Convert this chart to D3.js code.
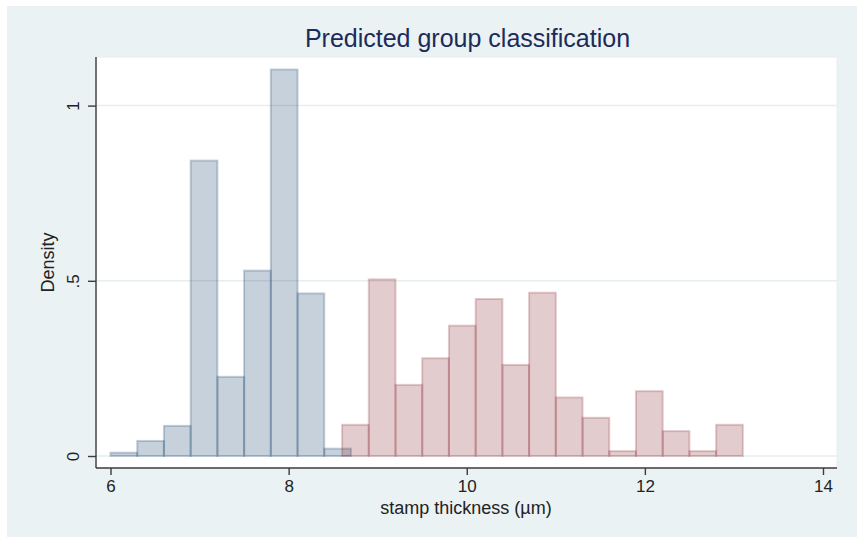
<!DOCTYPE html>
<html>
<head>
<meta charset="utf-8">
<script src="https://cdn.jsdelivr.net/npm/d3@7"></script>
<style>
  html, body { margin: 0; padding: 0; background: #ffffff; }
  svg { display: block; }
  text { font-family: "Liberation Sans", Arial, Helvetica, sans-serif; }
</style>
</head>
<body>
<svg id="chart" width="857" height="538"></svg>
<script>
// ---- data ----
const titleText = "Predicted group classification";
const xTitle = "stamp thickness (\u00b5m)";
const yTitle = "Density";
const binWidth = 0.3;
const group1BinStarts = [6.0, 6.3, 6.6, 6.9, 7.2, 7.5, 7.8, 8.1, 8.4];
const group1Density   = [0.0095, 0.043, 0.086, 0.843, 0.226, 0.529, 1.103, 0.464, 0.021];
const group2BinStarts = [8.6, 8.9, 9.2, 9.5, 9.8, 10.1, 10.4, 10.7, 11.0, 11.3, 11.6, 11.9, 12.2, 12.5, 12.8];
const group2Density   = [0.089, 0.504, 0.203, 0.279, 0.372, 0.448, 0.260, 0.466, 0.167, 0.109, 0.014, 0.185, 0.071, 0.014, 0.089];
const xTicks = [6, 8, 10, 12, 14];
const xTickLabels = ["6", "8", "10", "12", "14"];
const yTicks = [0, 0.5, 1];
const yTickLabels = ["0", ".5", "1"];

// ---- layout ----
const svg = d3.select("#chart");
const plot = { left: 96, right: 837, top: 57, bottom: 468 };

svg.append("rect").attr("x", 7).attr("y", 6).attr("width", 850).attr("height", 531)
  .attr("fill", "#eaf2f3");
svg.append("rect").attr("x", plot.left).attr("y", plot.top)
  .attr("width", plot.right - plot.left).attr("height", plot.bottom - plot.top)
  .attr("fill", "#ffffff").attr("stroke", "#e6eef0").attr("stroke-width", 1);

const x = d3.scaleLinear().domain([6, 14]).range([110.5, 823]);
const y = d3.scaleLinear().domain([0, 1]).range([456, 105.6]);

// gridlines
svg.append("g").selectAll("line").data(yTicks).join("line")
  .attr("x1", plot.left).attr("x2", plot.right)
  .attr("y1", d => y(d)).attr("y2", d => y(d))
  .attr("stroke", "#e6eef0").attr("stroke-width", 1.5);

function drawHist(starts, dens, color) {
  const data = starts.map((s, i) => ({ s, d: dens[i] }));
  svg.append("g").selectAll("rect").data(data).join("rect")
    .attr("x", d => x(d.s))
    .attr("width", d => x(d.s + binWidth) - x(d.s))
    .attr("y", d => y(d.d))
    .attr("height", d => y(0) - y(d.d))
    .attr("fill", color).attr("fill-opacity", 0.25)
    .attr("stroke", color).attr("stroke-opacity", 0.25).attr("stroke-width", 2);
}
drawHist(group1BinStarts, group1Density, "#1a476f");
drawHist(group2BinStarts, group2Density, "#90353b");

// axes
const axisColor = "#3c3c3c";
const xAxis = svg.append("g").attr("transform", `translate(0,${plot.bottom})`)
  .call(d3.axisBottom(x).tickValues(xTicks).tickFormat((d, i) => xTickLabels[i])
        .tickSize(7).tickSizeOuter(0).tickPadding(5));
xAxis.select(".domain").attr("d", `M${plot.left},0H${plot.right}`);
const yAxis = svg.append("g").attr("transform", `translate(${plot.left},0)`)
  .call(d3.axisLeft(y).tickValues(yTicks).tickFormat((d, i) => yTickLabels[i])
        .tickSize(8).tickSizeOuter(0));
yAxis.select(".domain").attr("d", `M0,${plot.top}V${plot.bottom}`);
yAxis.selectAll(".tick text")
  .attr("x", null).attr("dy", null).attr("y", null)
  .attr("text-anchor", "middle")
  .attr("transform", "translate(-17,0) rotate(-90)");

[xAxis, yAxis].forEach(a => {
  a.select(".domain").attr("stroke", axisColor).attr("stroke-width", 1.4);
  a.selectAll(".tick line").attr("stroke", axisColor).attr("stroke-width", 1.4);
  a.selectAll(".tick text").attr("fill", "#222222")
    .style("font-size", "17px").style("font-family", "'Liberation Sans', Arial, sans-serif");
});

// titles
svg.append("text").attr("x", 467.5).attr("y", 47).attr("text-anchor", "middle")
  .attr("fill", "#1c2b59").style("font-size", "25px").text(titleText);
svg.append("text").attr("x", 466).attr("y", 514).attr("text-anchor", "middle")
  .attr("fill", "#222222").style("font-size", "18px").text(xTitle);
svg.append("text").attr("transform", `translate(54,${(plot.top + plot.bottom) / 2}) rotate(-90)`)
  .attr("text-anchor", "middle").attr("fill", "#222222").style("font-size", "18px").text(yTitle);
</script>
</body>
</html>
